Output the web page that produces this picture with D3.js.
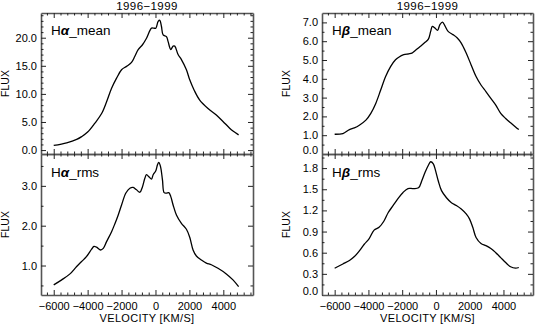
<!DOCTYPE html>
<html>
<head>
<meta charset="utf-8">
<script src="https://cdn.jsdelivr.net/npm/d3@7"></script>
<style>
  body { margin: 0; background: #fff; }
  text { font-family: "Liberation Sans", Arial, sans-serif; }
</style>
</head>
<body>
<svg id="chart" width="535" height="325"></svg>
<script>
// velocity axis
const velMajor = [-6000, -4000, -2000, 0, 2000, 4000];
const velDomain = [-6750, 5750];

// H-alpha mean spectrum
const haMeanV = [-6000, -5235, -4647, -4353, -4000, -3570, -3176, -2882, -2588, -2294,
  -2000, -1706, -1412, -1216, -1020, -765, -529, -235, -98, 20,
  157, 255, 353, 451, 647, 745, 902, 1039, 1137, 1333,
  1529, 1824, 2020, 2275, 2608, 3098, 3588, 3980, 4373, 4569, 4902];
const haMeanF = [0.83, 1.3, 1.9, 2.4, 3.2, 4.8, 6.5, 8.6, 11.0, 12.8,
  14.3, 14.9, 15.6, 16.7, 17.9, 18.75, 19.9, 21.7, 21.7, 21.7,
  22.9, 23.1, 22.0, 20.5, 20.2, 19.3, 17.9, 18.5, 18.5, 17.0,
  16.1, 14.3, 12.5, 10.7, 8.9, 7.4, 6.25, 5.1, 3.9, 3.4, 2.7];

// H-alpha rms spectrum
const haRmsV = [-6000, -5530, -5041, -4647, -4353, -4059, -3765, -3627, -3471, -3235,
  -3078, -2882, -2588, -2392, -2196, -2000, -1745, -1510, -1314, -1118,
  -922, -765, -627, -529, -373, -235, -137, 20, 118, 196,
  294, 412, 510, 647, 784, 902, 1039, 1235, 1529, 1824,
  2020, 2216, 2412, 2706, 3000, 3294, 3686, 4176, 4569, 4902];
const haRmsF = [0.515, 0.64, 0.79, 0.975, 1.10, 1.23, 1.41, 1.48, 1.46, 1.39,
  1.43, 1.60, 1.85, 2.05, 2.27, 2.52, 2.82, 2.94, 2.96, 2.90,
  2.84, 2.98, 3.19, 3.28, 3.22, 3.17, 3.28, 3.38, 3.53, 3.59,
  3.49, 3.15, 2.83, 2.82, 2.83, 2.73, 2.52, 2.27, 2.06, 1.91,
  1.71, 1.39, 1.24, 1.14, 1.06, 1.02, 0.93, 0.79, 0.64, 0.47];

// H-beta mean spectrum
const hbMeanV = [-6000, -5513, -5124, -4831, -4539, -4150, -3857, -3565, -3273, -2981,
  -2688, -2396, -2201, -1909, -1617, -1422, -1227, -935, -643, -448,
  -312, -214, -58, 97, 234, 390, 526, 721, 1013, 1266,
  1500, 1792, 2085, 2377, 2669, 2961, 3253, 3546, 3838, 4130,
  4422, 4715, 4909];
const hbMeanF = [1.05, 1.09, 1.30, 1.39, 1.53, 1.80, 2.16, 2.69, 3.40, 4.12,
  4.65, 5.01, 5.15, 5.28, 5.33, 5.37, 5.51, 5.72, 5.94, 6.11,
  6.52, 6.79, 6.70, 6.58, 6.88, 7.01, 6.83, 6.52, 6.35, 6.17,
  5.90, 5.37, 4.74, 4.12, 3.67, 3.32, 2.96, 2.60, 2.16, 1.89,
  1.66, 1.44, 1.30];

// H-beta rms spectrum
const hbRmsV = [-6000, -5513, -5124, -4831, -4539, -4247, -3955, -3663, -3370, -3078,
  -2825, -2533, -2240, -1948, -1656, -1364, -1033, -838, -643, -448,
  -312, -156, -19, 136, 331, 623, 916, 1208, 1500, 1792,
  1987, 2182, 2377, 2669, 2961, 3253, 3546, 3838, 4130, 4422,
  4715, 4909];
const hbRmsF = [0.38, 0.44, 0.49, 0.545, 0.625, 0.72, 0.80, 0.92, 0.96, 1.05,
  1.17, 1.27, 1.37, 1.455, 1.51, 1.51, 1.52, 1.62, 1.74, 1.84,
  1.89, 1.86, 1.76, 1.62, 1.48, 1.38, 1.31, 1.27, 1.22, 1.15,
  1.08, 0.96, 0.815, 0.73, 0.70, 0.66, 0.60, 0.53, 0.46, 0.40,
  0.38, 0.39];

// flux ticks per panel
const haMeanTicks = [0, 5, 10, 15, 20];
const haRmsTicks = [1, 2, 3];
const hbMeanTicks = [0, 1, 2, 3, 4, 5, 6, 7];
const hbRmsTicks = [0, 0.3, 0.6, 0.9, 1.2, 1.5, 1.8];

const svg = d3.select("#chart");

const leftX = [41, 253], rightX = [322, 533];
const topY = [13, 154], botY = [154, 295];

const panels = [
  {xr: leftX, yr: topY, dom: [-0.7, 24.4], major: haMeanTicks, minorStep: 1,
   v: haMeanV, f: haMeanF, greek: "α", name: "_mean", bottom: false},
  {xr: leftX, yr: botY, dom: [0.26, 3.8], major: haRmsTicks, minorStep: 0.5,
   v: haRmsV, f: haRmsF, greek: "α", name: "_rms", bottom: true},
  {xr: rightX, yr: topY, dom: [0, 7.5], major: hbMeanTicks, minorStep: 0.5,
   v: hbMeanV, f: hbMeanF, greek: "β", name: "_mean", bottom: false},
  {xr: rightX, yr: botY, dom: [0, 2.0], major: hbRmsTicks, minorStep: 0.15,
   v: hbRmsV, f: hbRmsF, greek: "β", name: "_rms", bottom: true}
];

const velMinor = d3.range(-6400, 5700, 400).filter(d => d % 2000 !== 0);

function styleAxis(g) {
  g.attr("color", "#222");
  g.select(".domain").attr("stroke", "#555").attr("stroke-width", 1.6);
  g.selectAll(".tick line").attr("stroke-width", 1);
  g.selectAll("text")
    .attr("font-family", "'Liberation Sans', Arial, sans-serif")
    .attr("font-size", 11)
    .attr("fill", "#000");
}

panels.forEach(p => {
  const x = d3.scaleLinear().domain(velDomain).range(p.xr);
  const y = d3.scaleLinear().domain(p.dom).range([p.yr[1], p.yr[0]]);
  const yMinor = d3.range(Math.ceil(p.dom[0] / p.minorStep) * p.minorStep, p.dom[1], p.minorStep)
    .map(d => +d.toFixed(3))
    .filter(d => !p.major.some(m => Math.abs(m - d) < 1e-6));

  // y axes (left labelled, right unlabelled)
  const gl = svg.append("g").attr("transform", `translate(${p.xr[0]},0)`)
    .call(d3.axisLeft(y).tickValues(p.major).tickSize(-5).tickSizeOuter(0)
      .tickPadding(4).tickFormat(d3.format(".1f")));
  gl.append("g").call(d3.axisLeft(y).tickValues(yMinor).tickSize(-2.5).tickFormat(""))
    .select(".domain").remove();
  styleAxis(gl);
  // bottom-edge zero label sits above the axis line
  gl.selectAll(".tick text").filter(d => d === p.dom[0]).attr("y", -4);

  const gr = svg.append("g").attr("transform", `translate(${p.xr[1]},0)`)
    .call(d3.axisRight(y).tickValues(p.major).tickSize(-5).tickSizeOuter(0).tickFormat(""));
  gr.append("g").call(d3.axisRight(y).tickValues(yMinor).tickSize(-2.5).tickFormat(""))
    .select(".domain").remove();
  styleAxis(gr);

  // x axes (bottom and top)
  const gb = svg.append("g").attr("transform", `translate(0,${p.yr[1]})`)
    .call(d3.axisBottom(x).tickValues(velMajor).tickSize(-5).tickSizeOuter(0)
      .tickPadding(7).tickFormat(p.bottom ? d3.format("d") : ""));
  gb.append("g").call(d3.axisBottom(x).tickValues(velMinor).tickSize(-2.5).tickFormat(""))
    .select(".domain").remove();
  styleAxis(gb);

  const gt = svg.append("g").attr("transform", `translate(0,${p.yr[0]})`)
    .call(d3.axisTop(x).tickValues(velMajor).tickSize(-5).tickSizeOuter(0).tickFormat(""));
  gt.append("g").call(d3.axisTop(x).tickValues(velMinor).tickSize(-2.5).tickFormat(""))
    .select(".domain").remove();
  styleAxis(gt);

  // spectrum
  const pts = p.v.map((v, i) => [v, p.f[i]]);
  svg.append("path")
    .datum(pts)
    .attr("fill", "none")
    .attr("stroke", "#000")
    .attr("stroke-width", 1.3)
    .attr("d", d3.line().x(d => x(d[0])).y(d => y(d[1])).curve(d3.curveCatmullRom.alpha(0.5)));

  // panel name
  const t = svg.append("text")
    .attr("x", p.xr[0] + 10)
    .attr("y", p.yr[0] + (p.bottom ? 23 : 22))
    .attr("font-size", 13.5);
  t.append("tspan").text("H");
  t.append("tspan").attr("font-weight", "bold").attr("font-style", "italic").text(p.greek);
  t.append("tspan").text(p.name);

  // y label
  svg.append("text")
    .attr("transform", `translate(${p.xr[0] - 32},${(p.yr[0] + p.yr[1]) / 2}) rotate(-90)`)
    .attr("text-anchor", "middle")
    .attr("font-size", 10.5)
    .text("FLUX");

  const cx = (p.xr[0] + p.xr[1]) / 2;
  if (p.bottom) {
    svg.append("text")
      .attr("x", cx).attr("y", 322)
      .attr("text-anchor", "middle")
      .attr("font-size", 11)
      .attr("letter-spacing", 0.3)
      .text("VELOCITY [KM/S]");
  } else {
    svg.append("text")
      .attr("x", cx).attr("y", 9.5)
      .attr("text-anchor", "middle")
      .attr("font-size", 11.5)
      .attr("letter-spacing", 0.4)
      .text("1996−1999");
  }
});
</script>
</body>
</html>
